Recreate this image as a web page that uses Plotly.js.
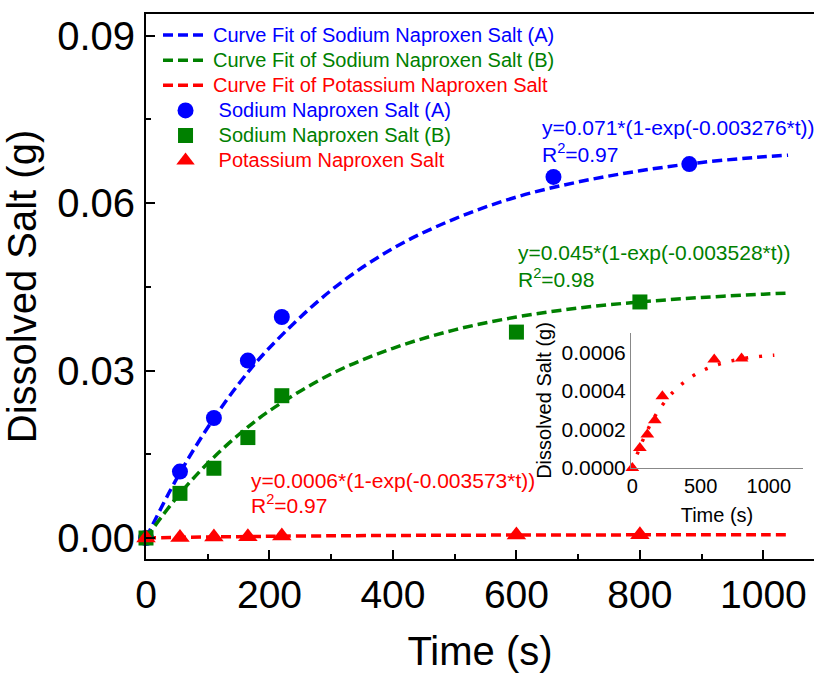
<!DOCTYPE html>
<html>
<head>
<meta charset="utf-8">
<script src="https://cdn.plot.ly/plotly-3.0.1.min.js"></script>
<style>html,body{margin:0;padding:0;background:#fff;}#chart{width:814px;height:673px;}</style>
</head>
<body>
<div id="chart"></div>
<script>
// Measured data
const timeA = [0, 55, 110, 165, 220, 660, 880];
const saltA = [0, 0.0119, 0.0215, 0.0318, 0.0396, 0.0647, 0.0670];
const timeB = [0, 55, 110, 165, 220, 600, 800];
const saltB = [0, 0.0080, 0.0125, 0.0180, 0.0255, 0.0369, 0.0423];
const timeK = [0, 55, 110, 165, 220, 600, 800];
const saltK = [0, 0.000104, 0.000173, 0.000248, 0.000372, 0.000563, 0.000568];

// Fitted curves
const fitTime = [0, 50, 100, 150, 200, 300, 400, 500, 600, 700, 800, 900, 1000, 1040];
const fitA = [0, 0.0107, 0.0198, 0.0276, 0.0341, 0.0444, 0.0519, 0.0572, 0.0611, 0.0638, 0.0658, 0.0673, 0.0683, 0.0686];
const fitB = [0, 0.0073, 0.0134, 0.0185, 0.0228, 0.0294, 0.0340, 0.0373, 0.0396, 0.0412, 0.0423, 0.0431, 0.0437, 0.0439];
const fitK = [0, 0.000098, 0.000180, 0.000249, 0.000306, 0.000395, 0.000456, 0.000500, 0.000530, 0.000551, 0.000566, 0.000576, 0.000583, 0.000585];

const names = {
  fitA: 'Curve Fit of Sodium Naproxen Salt (A)',
  fitB: 'Curve Fit of Sodium Naproxen Salt (B)',
  fitK: 'Curve Fit of Potassium Naproxen Salt',
  A: 'Sodium Naproxen Salt (A)',
  B: 'Sodium Naproxen Salt (B)',
  K: 'Potassium Naproxen Salt'
};
const eqA = ['y=0.071*(1-exp(-0.003276*t))', 'R<sup>2</sup>=0.97'];
const eqB = ['y=0.045*(1-exp(-0.003528*t))', 'R<sup>2</sup>=0.98'];
const eqK = ['y=0.0006*(1-exp(-0.003573*t))', 'R<sup>2</sup>=0.97'];

const BLUE = '#0000ff', GREEN = '#008000', RED = '#ff0000';
const FONT = 'Liberation Sans, Arial, sans-serif';
const col = (c, t) => '<span style="color:' + c + ';font-size:20px">' + t + '</span>';
const DASH = '10px,5px';

const traces = [
  {x: fitTime, y: fitA, mode: 'lines', name: col(BLUE, names.fitA), line: {color: BLUE, width: 3.5, dash: DASH, shape: 'spline'}},
  {x: fitTime, y: fitB, mode: 'lines', name: col(GREEN, names.fitB), line: {color: GREEN, width: 3.5, dash: DASH, shape: 'spline'}},
  {x: fitTime, y: fitK, mode: 'lines', name: col(RED, names.fitK), line: {color: RED, width: 3.5, dash: DASH, shape: 'spline'}},
  {x: timeA, y: saltA, mode: 'markers', name: col(BLUE, '\u00a0' + names.A), marker: {color: BLUE, size: 16, symbol: 'circle'}, cliponaxis: false},
  {x: timeB, y: saltB, mode: 'markers', name: col(GREEN, '\u00a0' + names.B), marker: {color: GREEN, size: 15, symbol: 'square'}, cliponaxis: false},
  {x: timeK, y: saltK, mode: 'markers', name: col(RED, '\u00a0' + names.K), marker: {color: RED, size: 17, symbol: 'triangle-up'}, cliponaxis: false},
  {x: fitTime, y: fitK, xaxis: 'x2', yaxis: 'y2', mode: 'lines', showlegend: false, line: {color: RED, width: 3.5, dash: '3px,11px', shape: 'spline'}},
  {x: timeK, y: saltK, xaxis: 'x2', yaxis: 'y2', mode: 'markers', showlegend: false, marker: {color: RED, size: 12, symbol: 'triangle-up'}, cliponaxis: false}
];

function ann(x, y, text, color) {
  return {x: x, y: y, xref: 'x', yref: 'y', text: text, showarrow: false, xanchor: 'left', yanchor: 'middle', font: {family: FONT, size: 21, color: color}};
}

const layout = {
  width: 814, height: 673,
  margin: {l: 146, r: 0, t: 14, b: 114},
  paper_bgcolor: '#fff', plot_bgcolor: '#fff',
  font: {family: FONT, color: '#000'},
  showlegend: true,
  legend: {x: 0.018, y: 0.9935, xanchor: 'left', yanchor: 'top', bgcolor: 'rgba(0,0,0,0)', font: {family: FONT, size: 17}, itemwidth: 45, tracegroupgap: 0},
  xaxis: {
    domain: [0, 1], range: [0, 1082], showline: true, linecolor: '#000', linewidth: 2, mirror: true,
    ticks: 'inside', ticklen: 9, tickwidth: 2, tickcolor: '#000', tick0: 0, dtick: 200,
    minor: {dtick: 100, ticks: 'inside', ticklen: 5, tickwidth: 2, tickcolor: '#000'},
    showgrid: false, zeroline: false, tickfont: {size: 39, family: FONT, color: '#000'},
    title: {text: 'Time (s)', font: {size: 40, family: FONT, color: '#000'}, standoff: 22}
  },
  yaxis: {
    domain: [0, 1], range: [-0.00376, 0.0939], showline: true, linecolor: '#000', linewidth: 2,
    ticks: 'inside', ticklen: 9, tickwidth: 2, tickcolor: '#000', tick0: 0, dtick: 0.03, tickformat: '.2f',
    minor: {dtick: 0.015, ticks: 'inside', ticklen: 5, tickwidth: 2, tickcolor: '#000'},
    showgrid: false, zeroline: false, tickfont: {size: 40, family: FONT, color: '#000'}, ticklabelstandoff: 1,
    title: {text: 'Dissolved Salt (g)', font: {size: 40, family: FONT, color: '#000'}, standoff: 8}
  },
  xaxis2: {
    domain: [0.726, 0.9835], anchor: 'y2', range: [-10, 1250], showline: true, linecolor: '#888', linewidth: 1,
    ticks: '', dtick: 500, tick0: 0, showgrid: false, zeroline: false,
    tickfont: {size: 20, family: FONT, color: '#000'},
    title: {text: 'Time (s)', font: {size: 20, family: FONT, color: '#000'}, standoff: 12}
  },
  yaxis2: {
    domain: [0.167, 0.4147], anchor: 'x2', range: [0, 0.0007], showline: true, linecolor: '#888', linewidth: 1,
    ticks: '', dtick: 0.0002, tick0: 0, tickformat: '.4f', showgrid: false, zeroline: false,
    tickfont: {size: 21, family: FONT, color: '#000'},
    title: {text: 'Dissolved Salt (g)', font: {size: 20, family: FONT, color: '#000'}, standoff: 4}
  },
  annotations: [
    ann(638, 0.0735, eqA[0], BLUE), ann(638, 0.0690, eqA[1], BLUE),
    ann(600, 0.0511, eqB[0], GREEN), ann(600, 0.0466, eqB[1], GREEN),
    ann(167, 0.0103, eqK[0], RED), ann(167, 0.0061, eqK[1], RED)
  ]
};

Plotly.newPlot('chart', traces, layout, {displayModeBar: false, staticPlot: true});
</script>
</body>
</html>
